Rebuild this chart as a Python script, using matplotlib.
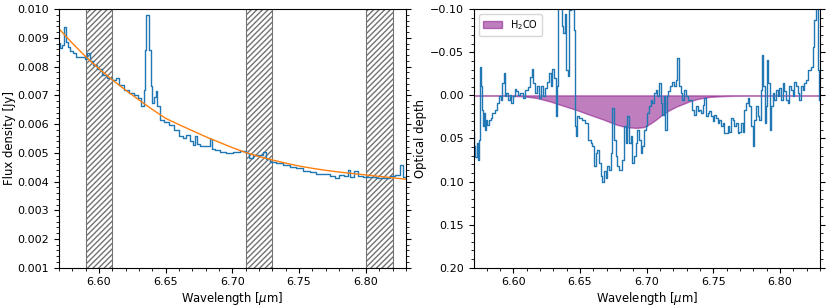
import numpy as np
import matplotlib.pyplot as plt
from matplotlib.ticker import AutoMinorLocator, MultipleLocator

# flux spectrum (left panel)
flux_wl = [6.5700, 6.5718, 6.5730, 6.5750, 6.5763, 6.5776, 6.5793, 6.5818, 6.5843, 6.5880,
           6.5905, 6.5923, 6.5938, 6.5968, 6.6005, 6.6043, 6.6080, 6.6118, 6.6138, 6.6168,
           6.6205, 6.6243, 6.6280, 6.6305, 6.6325, 6.6343, 6.6350, 6.6360, 6.6370, 6.6380,
           6.6393, 6.6405, 6.6418, 6.6430, 6.6443, 6.6468, 6.6505, 6.6543, 6.6580, 6.6618,
           6.6643, 6.6668, 6.6693, 6.6710, 6.6725, 6.6740, 6.6780, 6.6820, 6.6840, 6.6855,
           6.6890, 6.6930, 6.6978, 6.7028, 6.7090, 6.7115, 6.7140, 6.7165, 6.7216, 6.7240,
           6.7266, 6.7303, 6.7353, 6.7403, 6.7453, 6.7503, 6.7553, 6.7603, 6.7653, 6.7703,
           6.7753, 6.7778, 6.7815, 6.7853, 6.7873, 6.7890, 6.7928, 6.7953, 6.8003, 6.8053,
           6.8103, 6.8153, 6.8203, 6.8240, 6.8266, 6.8284, 6.8300]
flux = [0.00882, 0.00864, 0.00876, 0.00937, 0.00887, 0.00870, 0.00853, 0.00847, 0.00835, 0.00832,
        0.00826, 0.00847, 0.00818, 0.00806, 0.00791, 0.00772, 0.00760, 0.00752, 0.00760, 0.00737,
        0.00720, 0.00708, 0.00702, 0.00691, 0.00662, 0.00720, 0.00858, 0.00981, 0.00981, 0.00858,
        0.00731, 0.00673, 0.00696, 0.00714, 0.00662, 0.00615, 0.00609, 0.00598, 0.00580, 0.00557,
        0.00551, 0.00563, 0.00540, 0.00528, 0.00558, 0.00530, 0.00522, 0.00525, 0.00547, 0.00515,
        0.00510, 0.00503, 0.00498, 0.00504, 0.00507, 0.00498, 0.00481, 0.00492, 0.00492, 0.00504,
        0.00477, 0.00469, 0.00463, 0.00458, 0.00452, 0.00446, 0.00438, 0.00434, 0.00426, 0.00426,
        0.00419, 0.00413, 0.00422, 0.00419, 0.00440, 0.00417, 0.00438, 0.00419, 0.00417, 0.00415,
        0.00411, 0.00411, 0.00419, 0.00422, 0.00458, 0.00415, 0.00415]

# continuum (orange)
cont_wl = [6.57, 6.58, 6.59, 6.60, 6.61, 6.62, 6.63, 6.64, 6.65, 6.66, 6.67, 6.68, 6.69, 6.70,
           6.71, 6.72, 6.73, 6.74, 6.75, 6.76, 6.77, 6.78, 6.79, 6.80, 6.81, 6.82, 6.83]
cont = [0.00932, 0.00882, 0.00835, 0.00793, 0.00754, 0.00718, 0.00684, 0.00651, 0.00620, 0.00598,
        0.00577, 0.00556, 0.00537, 0.00518, 0.00501, 0.00487, 0.00475, 0.00464, 0.00454, 0.00446,
        0.00439, 0.00433, 0.00428, 0.00423, 0.00418, 0.00413, 0.00408]

# excluded ranges (hatched)
mask_ranges = [(6.59, 6.61), (6.71, 6.73), (6.80, 6.82)]

# optical depth (right panel)
tau_wl = [6.5705, 6.57125, 6.572, 6.573, 6.57375, 6.5745, 6.57525, 6.576, 6.57675, 6.5775,
          6.57825, 6.579, 6.580, 6.58125, 6.5825, 6.58375, 6.585, 6.587, 6.58875, 6.590,
          6.59125, 6.5925, 6.5935, 6.59425, 6.5955, 6.59675, 6.598, 6.59925, 6.6005, 6.60175,
          6.603, 6.6045, 6.60625, 6.608, 6.610, 6.61175, 6.61375, 6.6145, 6.6155, 6.617,
          6.61875, 6.620, 6.62125, 6.623, 6.625, 6.62625, 6.6275, 6.62875, 6.630, 6.63125,
          6.6325, 6.63325, 6.634, 6.635, 6.63625, 6.637, 6.63825, 6.63925, 6.6405, 6.64175,
          6.6425, 6.64375, 6.645, 6.64575, 6.6465, 6.6475, 6.64875, 6.650, 6.6525, 6.655,
          6.6575, 6.65875, 6.660, 6.66125, 6.6625, 6.66375, 6.665, 6.66625, 6.6675, 6.66875,
          6.670, 6.67125, 6.6725, 6.67375, 6.675, 6.67625, 6.6775, 6.67875, 6.6805, 6.6825,
          6.68375, 6.685, 6.68625, 6.6875, 6.68875, 6.690, 6.69125, 6.6925, 6.69375, 6.695,
          6.69625, 6.6975, 6.69875, 6.700, 6.70125, 6.7025, 6.70375, 6.705, 6.70625, 6.7075,
          6.70875, 6.710, 6.71125, 6.7125, 6.71375, 6.7145, 6.7155, 6.717, 6.71875, 6.720,
          6.72125, 6.7225, 6.72375, 6.725, 6.72625, 6.7275, 6.72875, 6.730, 6.7325, 6.735,
          6.73625, 6.7375, 6.73875, 6.740, 6.74125, 6.7425, 6.74375, 6.745, 6.74625, 6.7475,
          6.74875, 6.750, 6.75125, 6.7525, 6.75375, 6.755, 6.75625, 6.7575, 6.75875, 6.760,
          6.76125, 6.7625, 6.76375, 6.765, 6.76625, 6.7675, 6.76875, 6.770, 6.77125, 6.7725,
          6.77375, 6.775, 6.77625, 6.7775, 6.77875, 6.780, 6.78125, 6.7825, 6.78375, 6.785,
          6.78625, 6.787, 6.788, 6.78875, 6.790, 6.79075, 6.79175, 6.7925, 6.79375, 6.795,
          6.79625, 6.7975, 6.79875, 6.800, 6.80125, 6.8025, 6.80375, 6.805, 6.80625, 6.8075,
          6.80875, 6.810, 6.81125, 6.8125, 6.81375, 6.815, 6.81625, 6.8175, 6.81875, 6.820,
          6.82125, 6.8225, 6.82375, 6.825, 6.82625, 6.8275, 6.82875, 6.8295]
tau = [0.0438, 0.059, 0.071, 0.055, 0.075, 0.052, -0.0335, -0.0103, 0.0168, 0.036,
       0.0206, 0.040, 0.028, 0.034, 0.028, 0.0265, 0.0206, 0.0168, 0.009, 0.0013,
       0.0052, -0.0142, -0.0258, 0.0013, -0.0026, 0.0052, -0.0006, 0.009, 0.0013, -0.0072,
       -0.0045, -0.0006, -0.0026, 0.0032, -0.0064, -0.0095, -0.0219, -0.0304, -0.0142, -0.0026,
       -0.0103, 0.0032, -0.0103, 0.0013, -0.0084, -0.0161, -0.0258, -0.0103, -0.0304, -0.020,
       0.0245, -0.0103, -0.13, -0.14, -0.14, -0.080, -0.072, -0.095, -0.0296, -0.022,
       -0.099, -0.13, -0.10, -0.076, 0.036, 0.0477, 0.0245, 0.0265, 0.0284, 0.0322,
       0.0516, 0.0555, 0.0593, 0.0825, 0.067, 0.0632, 0.0787, 0.0941, 0.100, 0.0883,
       0.096, 0.0825, 0.0864, 0.067, 0.0148, 0.0516, 0.0709, 0.0825, 0.0864, 0.0748,
       0.036, 0.0555, 0.0245, 0.0555, 0.0477, 0.0787, 0.0709, 0.0555, 0.040, 0.0516,
       0.067, 0.0593, 0.040, 0.036, 0.0206, 0.0129, 0.0052, 0.009, -0.0026, -0.0064,
       0.0013, -0.0142, 0.009, 0.0226, 0.0013, 0.040, 0.0013, -0.0045, -0.0103, -0.0161,
       -0.0103, -0.018, -0.0432, -0.0103, -0.0026, 0.0052, -0.0064, 0.0013, 0.0052, 0.0168,
       0.0226, 0.0129, 0.0187, 0.0168, 0.0206, 0.011, 0.0032, 0.0245, 0.0206, 0.0187,
       0.0245, 0.0303, 0.0226, 0.0265, 0.0322, 0.0284, 0.036, 0.0322, 0.0438, 0.0438,
       0.036, 0.042, 0.0265, 0.0284, 0.036, 0.0322, 0.0438, 0.042, 0.0322, 0.042,
       0.0168, 0.009, 0.0032, 0.0129, 0.036, 0.0593, 0.0284, 0.0129, 0.0245, 0.0284,
       -0.0064, -0.047, -0.0103, 0.0322, 0.0129, -0.0412, -0.0142, 0.040, 0.0129, -0.0026,
       0.0052, -0.0064, 0.0013, -0.0084, 0.0052, -0.0142, -0.0045, 0.0052, 0.009, -0.0103,
       -0.0064, 0.0013, -0.0161, -0.0103, -0.0026, 0.0052, -0.0103, -0.0064, -0.0142, -0.018,
       -0.0296, -0.0296, -0.0335, -0.0567, -0.0876, -0.13, -0.0296, 0.0052]

# H2CO model
h2co_wl = [6.5705, 6.5900, 6.6075, 6.6175, 6.6275, 6.6375, 6.6475, 6.6575, 6.6675, 6.6775,
           6.6850, 6.6925, 6.6975, 6.7025, 6.7075, 6.7125, 6.7175, 6.7225, 6.7275, 6.7325,
           6.7375, 6.7425, 6.7475, 6.7575, 6.7675, 6.7775, 6.8000, 6.8300]
h2co = [0.0, 0.0002, 0.001, 0.003, 0.007, 0.012, 0.017, 0.0226, 0.028, 0.034,
        0.037, 0.0377, 0.037, 0.033, 0.0276, 0.0214, 0.0168, 0.0129, 0.0098, 0.0067,
        0.0044, 0.0029, 0.0017, 0.0009, 0.0004, 0.0001, 0.0, 0.0]

plt.rcParams['font.size'] = 8
plt.rcParams['axes.labelsize'] = 8.4

fig = plt.figure(figsize=(8.3, 3.07), dpi=100)
ax1 = fig.add_axes([0.071, 0.128, 0.418, 0.842])
ax2 = fig.add_axes([0.571, 0.128, 0.417, 0.842])

# 1) flux + continuum
for lo, hi in mask_ranges:
    ax1.axvspan(lo, hi, facecolor='none', edgecolor='0.45', hatch='//////', lw=0.8)
ax1.plot(flux_wl, flux, drawstyle='steps-mid', color='tab:blue', lw=1)
ax1.plot(cont_wl, cont, color='tab:orange', lw=1)
ax1.set_xlim(6.57, 6.83)
ax1.set_ylim(0.001, 0.010)
ax1.yaxis.set_major_locator(MultipleLocator(0.001))
ax1.set_xlabel(r"Wavelength [$\mu$m]", labelpad=2)
ax1.set_ylabel("Flux density [Jy]", labelpad=1)

# 2) optical depth + H2CO
ax2.fill_between(h2co_wl, 0, h2co, facecolor='purple', edgecolor='purple', alpha=0.5,
                 lw=1, label=r"H$_2$CO")
ax2.plot(tau_wl, tau, drawstyle='steps-mid', color='tab:blue', lw=1)
ax2.set_xlim(6.5705, 6.83)
ax2.set_ylim(0.20, -0.10)
ax2.yaxis.set_major_locator(MultipleLocator(0.05))
ax2.set_xlabel(r"Wavelength [$\mu$m]", labelpad=2)
ax2.set_ylabel("Optical depth", labelpad=2)
ax2.legend(loc='upper left', fontsize=7, handlelength=2)

for ax in (ax1, ax2):
    ax.xaxis.set_major_locator(MultipleLocator(0.05))
    ax.xaxis.set_minor_locator(MultipleLocator(0.01))
    ax.yaxis.set_minor_locator(AutoMinorLocator())
    ax.tick_params(which='both', direction='out', top=False, right=True)

plt.savefig('out.png', dpi=100)
